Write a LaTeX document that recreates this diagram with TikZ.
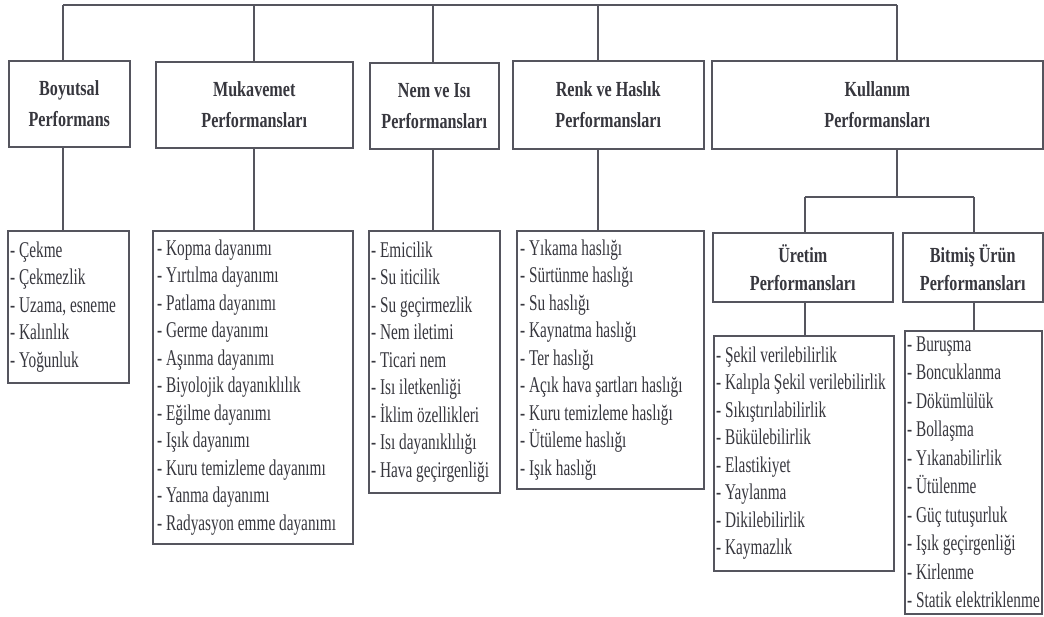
\documentclass[tikz,border=0pt]{standalone}
\usepackage{fontspec}
\setmainfont{Liberation Serif}[FakeStretch=0.68]
\newfontfamily\hdrfont{Liberation Serif}[FakeStretch=0.75]
\definecolor{ink}{RGB}{55,55,62}
\definecolor{wire}{RGB}{85,85,94}
\begin{document}
\begin{tikzpicture}[x=1pt,y=-1pt,
  hdr/.style={draw=wire, line width=1.5pt, anchor=north west, inner sep=0pt, text=ink,
    align=center, font=\hdrfont\fontsize{21.5}{31}\selectfont\bfseries},
  subhdr/.style={hdr, font=\hdrfont\fontsize{21.5}{28}\selectfont\bfseries},
  listbox/.style={draw=wire, line width=1.5pt, anchor=north west, inner sep=0pt},
  items/.style={anchor=west, inner sep=0pt, align=left, text=ink,
    font=\fontsize{22.5}{27.5}\selectfont},
  wireline/.style={draw=wire, line width=2.4pt}
]
\useasboundingbox (0,0) rectangle (1044,616);
\fill[white] (0,0) rectangle (1044,616);

% header boxes
\node[hdr, minimum width=121, minimum height=86] (hB) at (8,60) {Boyutsal\\Performans};
\node[hdr, minimum width=197, minimum height=86] (hM) at (155,61) {Mukavemet\\Performansları};
\node[hdr, minimum width=129, minimum height=86] (hN) at (369,62) {Nem ve Isı\\Performansları};
\node[hdr, minimum width=191, minimum height=88] (hR) at (512,60) {Renk ve Haslık\\Performansları};
\node[hdr, minimum width=331, minimum height=88] (hK) at (711,60) {Kullanım\\Performansları};

% sub header boxes
\node[subhdr, minimum width=180, minimum height=69] (hU) at (712,232) {Üretim\\Performansları};
\node[subhdr, minimum width=140, minimum height=69] (hT) at (902,232) {Bitmiş Ürün\\Performansları};

% list boxes
\node[listbox, minimum width=121, minimum height=152] (lB) at (7,230) {};
\node[items] at ([xshift=3]lB.west) {- Çekme\\- Çekmezlik\\- Uzama, esneme\\- Kalınlık\\- Yoğunluk};

\node[listbox, minimum width=200, minimum height=313] (lM) at (152,230) {};
\node[items] at ([xshift=5]lM.west) {- Kopma dayanımı\\- Yırtılma dayanımı\\- Patlama dayanımı\\- Germe dayanımı\\- Aşınma dayanımı\\- Biyolojik dayanıklılık\\- Eğilme dayanımı\\- Işık dayanımı\\- Kuru temizleme dayanımı\\- Yanma dayanımı\\- Radyasyon emme dayanımı};

\node[listbox, minimum width=131, minimum height=262] (lN) at (368,230) {};
\node[items] at ([xshift=3]lN.west) {- Emicilik\\- Su iticilik\\- Su geçirmezlik\\- Nem iletimi\\- Ticari nem\\- Isı iletkenliği\\- İklim özellikleri\\- Isı dayanıklılığı\\- Hava geçirgenliği};

\node[listbox, minimum width=187, minimum height=258] (lR) at (516,230) {};
\node[items] at ([xshift=4]lR.west) {- Yıkama haslığı\\- Sürtünme haslığı\\- Su haslığı\\- Kaynatma haslığı\\- Ter haslığı\\- Açık hava şartları haslığı\\- Kuru temizleme haslığı\\- Ütüleme haslığı\\- Işık haslığı};

\node[listbox, minimum width=180, minimum height=235] (lU) at (713,335) {};
\node[items] at ([xshift=3]lU.west) {- Şekil verilebilirlik\\- Kalıpla Şekil verilebilirlik\\- Sıkıştırılabilirlik\\- Bükülebilirlik\\- Elastikiyet\\- Yaylanma\\- Dikilebilirlik\\- Kaymazlık};

\node[listbox, minimum width=137, minimum height=283] (lT) at (904,330) {};
\node[items, font=\fontsize{22.5}{28.5}\selectfont] at ([xshift=3]lT.west) {- Buruşma\\- Boncuklanma\\- Dökümlülük\\- Bollaşma\\- Yıkanabilirlik\\- Ütülenme\\- Güç tutuşurluk\\- Işık geçirgenliği\\- Kirlenme\\- Statik elektriklenme};

% connector positions
\coordinate (c1) at (63,5);
\coordinate (c2) at (254,5);
\coordinate (c3) at (433,5);
\coordinate (c4) at (598,5);
\coordinate (c5) at (897,5);
\coordinate (k1) at (805,197);
\coordinate (k2) at (974,197);

% top bus
\draw[wireline] (c1) -- (c5);
\draw[wireline] (c1) -- (c1 |- hB.north);
\draw[wireline] (c2) -- (c2 |- hM.north);
\draw[wireline] (c3) -- (c3 |- hN.north);
\draw[wireline] (c4) -- (c4 |- hR.north);
\draw[wireline] (c5) -- (c5 |- hK.north);

% header to list
\draw[wireline] (c1 |- hB.south) -- (c1 |- lB.north);
\draw[wireline] (c2 |- hM.south) -- (c2 |- lM.north);
\draw[wireline] (c3 |- hN.south) -- (c3 |- lN.north);
\draw[wireline] (c4 |- hR.south) -- (c4 |- lR.north);

% Kullanim branch
\draw[wireline] (c5 |- hK.south) -- (c5 |- k1);
\draw[wireline] (k1) -- (k2);
\draw[wireline] (k1) -- (k1 |- hU.north);
\draw[wireline] (k2) -- (k2 |- hT.north);
\draw[wireline] (k1 |- hU.south) -- (k1 |- lU.north);
\draw[wireline] (k2 |- hT.south) -- (k2 |- lT.north);
\end{tikzpicture}
\end{document}
